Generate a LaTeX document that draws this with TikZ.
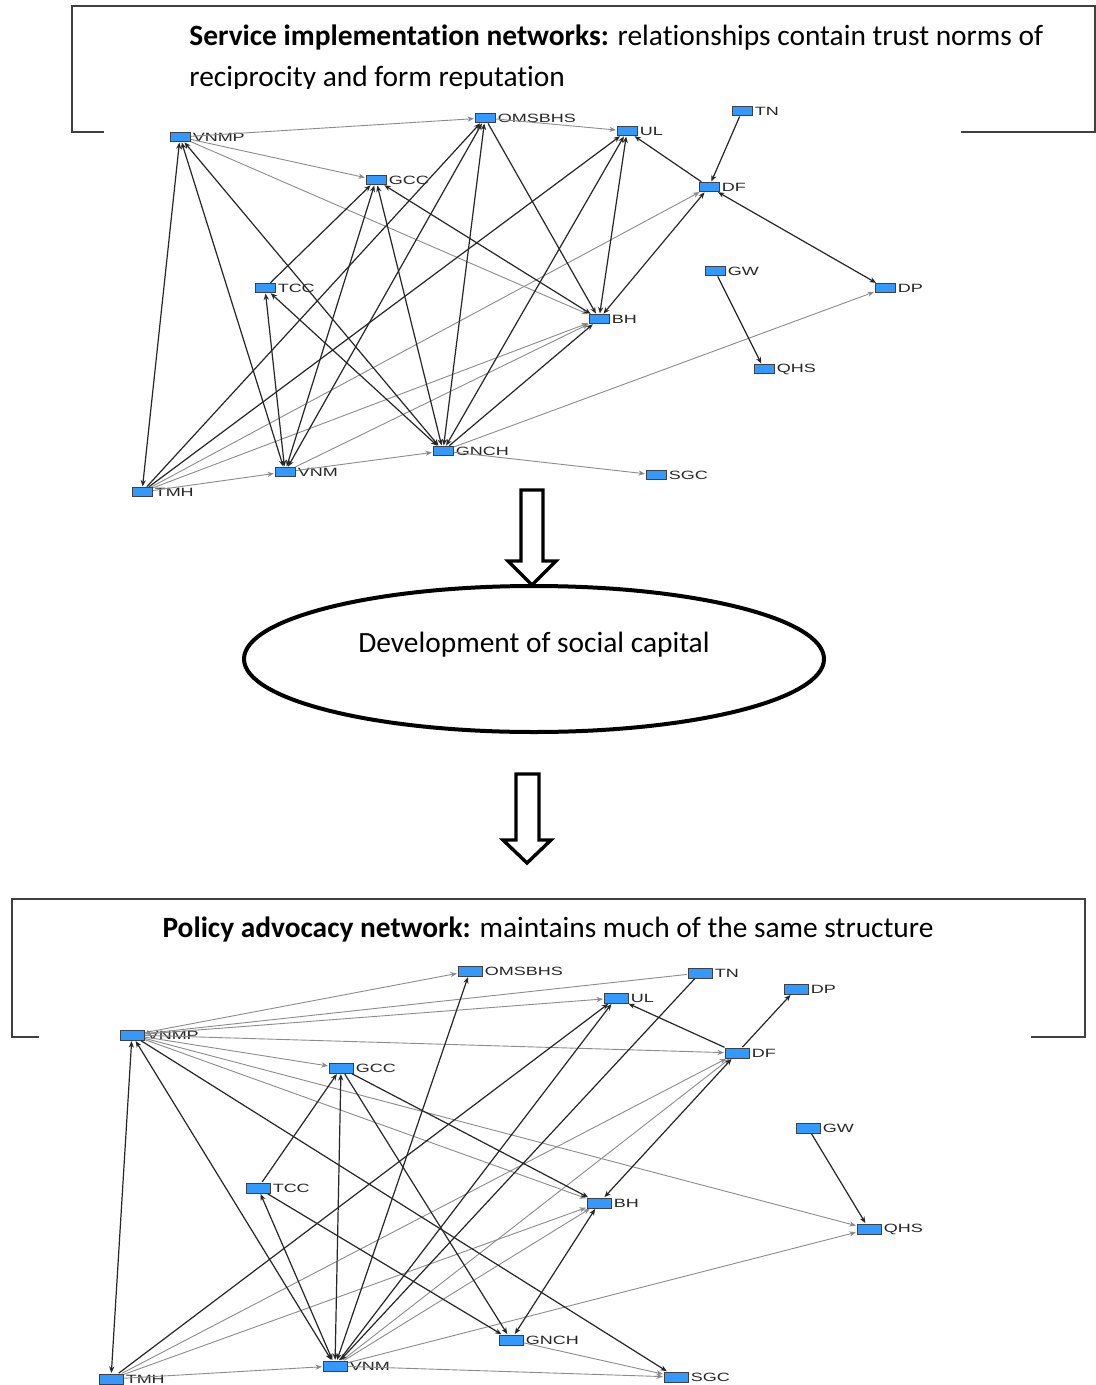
\documentclass[tikz,border=0pt]{standalone}
\usepackage{fontspec}
\setmainfont{Carlito}[Ligatures=NoCommon]
\newfontfamily\netfont[FakeStretch=1.5]{Liberation Sans}
\usetikzlibrary{arrows.meta, shapes.geometric}
\definecolor{netblue}{RGB}{51,153,255}

\begin{document}
\begin{tikzpicture}[
        x = 0.5pt, y = -0.5pt, % one unit is one pixel of the page, y running down
        > = {Stealth[length=3.2pt, width=2.6pt]}, % small arrow head of the network plots
        shorten > = 0.4pt,
        shorten < = 0.4pt,
        actor/.style = {rectangle, draw = black!75, fill = netblue, line width = 0.35pt,
            minimum width = 10pt, minimum height = 4.4pt, inner sep = 0pt},
        bigactor/.style = {actor, minimum width = 12pt, minimum height = 5pt},
        actorname/.style = {font = \netfont\fontsize{6}{7}\selectfont, text = black!85, inner sep = 1pt},
        strongtie/.style = {draw = black!85, line width = 0.6pt},
        weaktie/.style = {draw = black!45, line width = 0.45pt},
        boxline/.style = {draw = black!75, line width = 0.6pt},
        bigarrow/.style = {draw = black, line width = 1.7pt, line join = miter},
        headline/.style = {font = \fontsize{14.7}{17}\selectfont, inner sep = 0pt}
    ]

    \path[fill = white, use as bounding box] (0,0) rectangle (1096,1385);

    % caption box of the first network
    \draw[boxline] (105,132) -- (72,132) -- (72,6) -- (1095,6) -- (1095,132) -- (960,132);
    \begin{scope}
        \clip (72,6) rectangle (1095,89);
        \node[headline, anchor = base west] (svcTitle) at (189,46)
            {\textbf{Service implementation networks:} relationships contain trust norms of};
        \node[headline, anchor = base west] (svcTitleMore) at (189,87) {reciprocity and form reputation};
    \end{scope}

    % service implementation network
    \node[actor, label = {[actorname]right:VNMP}] (aVNMP) at (180,137) {};
    \node[actor, label = {[actorname]right:OMSBHS}] (aOMSBHS) at (485,118) {};
    \node[actor, label = {[actorname]right:UL}] (aUL) at (627,131) {};
    \node[actor, label = {[actorname]right:TN}] (aTN) at (742,111) {};
    \node[actor, label = {[actorname]right:GCC}] (aGCC) at (376,180) {};
    \node[actor, label = {[actorname]right:DF}] (aDF) at (709,187) {};
    \node[actor, label = {[actorname]right:TCC}] (aTCC) at (265,288) {};
    \node[actor, label = {[actorname]right:GW}] (aGW) at (715,271) {};
    \node[actor, label = {[actorname]right:DP}] (aDP) at (885,288) {};
    \node[actor, label = {[actorname]right:BH}] (aBH) at (599,319) {};
    \node[actor, label = {[actorname]right:QHS}] (aQHS) at (764,369) {};
    \node[actor, label = {[actorname]right:GNCH}] (aGNCH) at (443,451) {};
    \node[actor, label = {[actorname]right:VNM}] (aVNM) at (285,472) {};
    \node[actor, label = {[actorname]right:TMH}] (aTMH) at (142,492) {};
    \node[actor, label = {[actorname]right:SGC}] (aSGC) at (656,475) {};

    \draw[weaktie, ->] (aVNMP) edge (aOMSBHS) (aOMSBHS) edge (aUL) (aVNMP) edge (aGCC)
        (aVNMP) edge (aBH) (aTMH) edge (aDF) (aTMH) edge (aBH) (aVNM) edge (aBH)
        (aGNCH) edge (aDP) (aGNCH) edge (aSGC) (aTMH) edge (aVNM) (aVNM) edge (aGNCH);
    \draw[strongtie, <->] (aVNMP) edge (aTMH) (aVNMP) edge (aVNM) (aVNMP) edge (aGNCH)
        (aTCC) edge (aVNM) (aTCC) edge (aGNCH) (aGCC) edge (aVNM) (aGCC) edge (aGNCH)
        (aGCC) edge (aBH) (aOMSBHS) edge (aVNM) (aOMSBHS) edge (aGNCH) (aGNCH) edge (aUL)
        (aBH) edge (aUL) (aDF) edge (aDP) (aDF) edge (aBH);
    \draw[strongtie, ->] (aTCC) edge (aGCC) (aTMH) edge (aOMSBHS) (aOMSBHS) edge (aBH)
        (aTMH) edge (aUL) (aDF) edge (aUL) (aTN) edge (aDF) (aGNCH) edge (aBH) (aGW) edge (aQHS);

    % block arrows and the outcome
    \draw[bigarrow] (521,490) -- (543,490) -- (543,561) -- (556,561) -- (532,585) -- (508,561) -- (521,561) -- cycle;
    \node[draw, ellipse, line width = 2pt, minimum width = 290pt, minimum height = 73pt,
        font = \fontsize{14.7}{17}\selectfont] (capital) at (534,659)
        {\raisebox{3.5pt}[0pt][0pt]{Development of social capital}};
    \draw[bigarrow] (516,774) -- (539,774) -- (539,840) -- (551,840) -- (527,863) -- (503,840) -- (516,840) -- cycle;

    % caption box of the second network
    \draw[boxline] (40,1037) -- (12,1037) -- (12,899) -- (1085,899) -- (1085,1037) -- (1030,1037);
    \node[headline, anchor = base] (advTitle) at (548,937)
        {\textbf{Policy advocacy network:} maintains much of the same structure};

    % policy advocacy network
    \node[bigactor, label = {[actorname]right:OMSBHS}] (bOMSBHS) at (470,971) {};
    \node[bigactor, label = {[actorname]right:TN}] (bTN) at (700,973) {};
    \node[bigactor, label = {[actorname]right:UL}] (bUL) at (616,998) {};
    \node[bigactor, label = {[actorname]right:DP}] (bDP) at (796,989) {};
    \node[bigactor, label = {[actorname]right:VNMP}] (bVNMP) at (132,1035) {};
    \node[bigactor, label = {[actorname]right:DF}] (bDF) at (737,1053) {};
    \node[bigactor, label = {[actorname]right:GCC}] (bGCC) at (341,1068) {};
    \node[bigactor, label = {[actorname]right:GW}] (bGW) at (808,1128) {};
    \node[bigactor, label = {[actorname]right:TCC}] (bTCC) at (258,1188) {};
    \node[bigactor, label = {[actorname]right:BH}] (bBH) at (599,1203) {};
    \node[bigactor, label = {[actorname]right:QHS}] (bQHS) at (869,1229) {};
    \node[bigactor, label = {[actorname]right:GNCH}] (bGNCH) at (511,1340) {};
    \node[bigactor, label = {[actorname]right:VNM}] (bVNM) at (335,1366) {};
    \node[bigactor, label = {[actorname]right:TMH}] (bTMH) at (111,1379) {};
    \node[bigactor, label = {[actorname]right:SGC}] (bSGC) at (676,1377) {};

    \draw[weaktie, ->] (bVNMP) edge (bOMSBHS) (bTN) edge (bVNMP) (bVNMP) edge (bUL)
        (bVNMP) edge (bDF) (bVNMP) edge (bGCC) (bVNMP) edge (bBH) (bVNMP) edge (bQHS)
        (bTMH) edge (bDF) (bTMH) edge (bBH) (bVNM) edge (bDF) (bVNM) edge (bBH)
        (bVNM) edge (bQHS) (bVNM) edge (bSGC) (bGNCH) edge (bSGC) (bTMH) edge (bVNM);
    \draw[strongtie, <->] (bVNMP) edge (bTMH) (bVNMP) edge (bVNM) (bVNM) edge (bTCC)
        (bVNM) edge (bGCC) (bVNM) edge (bOMSBHS) (bDF) edge (bBH) (bBH) edge (bGNCH);
    \draw[strongtie, ->] (bVNMP) edge (bSGC) (bTCC) edge (bGCC) (bTCC) edge (bGNCH)
        (bGCC) edge (bGNCH) (bGCC) edge (bBH) (bTMH) edge (bUL) (bVNM) edge (bUL)
        (bTN) edge (bVNM) (bDF) edge (bUL) (bDF) edge (bDP) (bGW) edge (bQHS);
\end{tikzpicture}
\end{document}
